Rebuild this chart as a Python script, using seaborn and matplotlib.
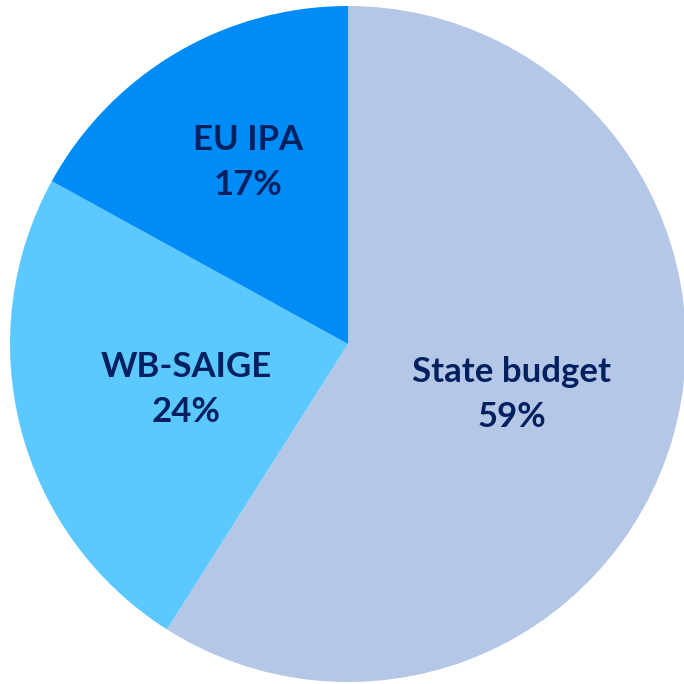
import matplotlib
matplotlib.use("Agg")
import matplotlib.pyplot as plt
import seaborn as sns

labels = ["State budget", "WB-SAIGE", "EU IPA"]
values = [59, 24, 17]
colors = ["#B4C7E7", "#5BC8FF", "#008CF7"]

sns.set_theme(style="white")
plt.rcParams['font.family'] = ['Lato', 'DejaVu Sans']

fig = plt.figure(figsize=(6.84, 6.84), dpi=100)
ax = fig.add_axes([0, 0, 1, 1])
ax.pie(values, colors=colors, startangle=90, counterclock=False,
       radius=1, center=(0, 0), wedgeprops=dict(linewidth=0))
ax.set_xlim(-348/338, (684-348)/338)
ax.set_ylim(-(684-344)/338, 344/338)
ax.set_aspect('equal')
ax.axis('off')

pos = [(0.485, -0.148), (-0.479, -0.136), (-0.296, 0.538)]
for lab, v, (x, y) in zip(labels, values, pos):
    ax.text(x, y, f"{lab}\n{v}%", ha='center', va='center', fontsize=25,
            fontweight='bold', color='#002060', linespacing=1.5)

fig.savefig("out.png", dpi=100)
